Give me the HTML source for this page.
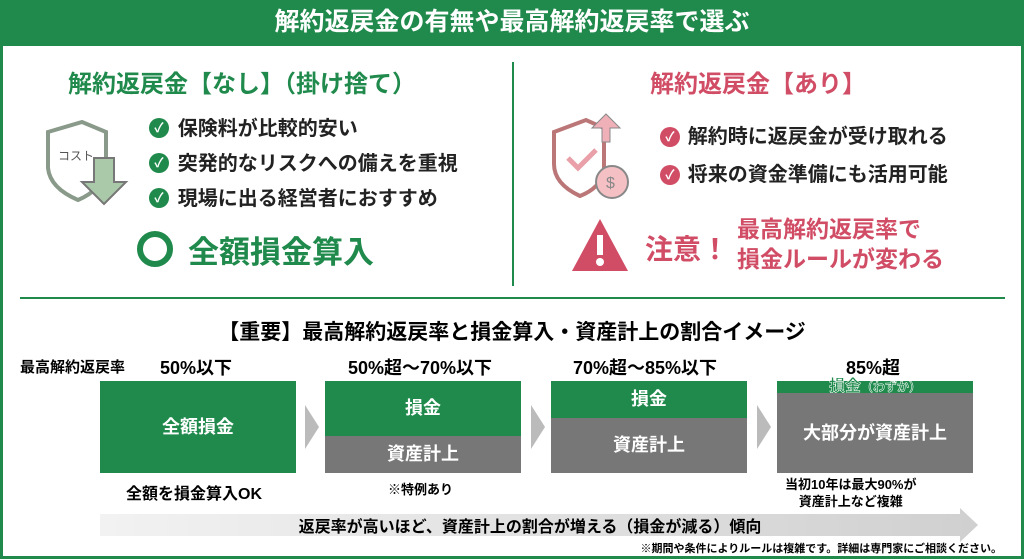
<!DOCTYPE html>
<html><head><meta charset="utf-8"><style>
*{margin:0;padding:0;box-sizing:border-box}
body{width:1024px;height:559px;overflow:hidden;background:#fff;font-family:"Liberation Sans","Noto Sans CJK JP",sans-serif;position:relative}
.a{position:absolute;white-space:nowrap}
.g{color:#1f8a4c}.p{color:#d14d66}
.b{font-weight:bold}
.ck{position:absolute;width:20px;height:20px;border-radius:50%;color:#fff;font-size:13px;font-weight:bold;text-align:center;line-height:20px}
.box{position:absolute;width:196px;height:92px;background:#777;color:#fff;font-weight:bold;font-size:18px}
.box div{position:absolute;left:0;right:0;text-align:center;background:#1f8a4c}
.chev{position:absolute;width:0;height:0;border-top:22px solid transparent;border-bottom:22px solid transparent;border-left:14px solid #bbb}
</style></head><body>
<div class="a" style="left:0;top:0;width:1024px;height:559px;border:3px solid #1f8a4c;border-top:none"></div>
<div class="a" style="left:0;top:0;width:1024px;height:46px;background:#1f8a4c;color:#fff;font-size:25px;font-weight:bold;text-align:center;line-height:44px">解約返戻金の有無や最高解約返戻率で選ぶ</div>
<div class="a" style="left:512px;top:62px;width:2px;height:224px;background:#1f8a4c"></div>
<div class="a" style="left:20px;top:297px;width:985px;height:2px;background:#1f8a4c"></div>

<div class="a g b" style="left:68px;top:64px;font-size:24px">解約返戻金【なし】（掛け捨て）</div>
<svg class="a" style="left:42px;top:118px" width="88" height="90"><path d="M6 14 L40 4 L64 14 L64 50 Q60 72 36 82 Q8 70 6 50 Z" fill="#fff" stroke="#8a9a8a" stroke-width="4"/><text x="16" y="42" font-size="12" fill="#555" font-family="Noto Sans CJK JP">コスト</text><path d="M52 40 h20 v24 h12 l-22 22 l-22 -22 h12 z" fill="#a9c9a9" stroke="#777" stroke-width="2"/></svg>
<div class="a b" style="left:150px;top:112px;font-size:20px;line-height:35px;color:#222">
<div>&nbsp;&nbsp;&nbsp;&nbsp;&nbsp;保険料が比較的安い</div><div>&nbsp;&nbsp;&nbsp;&nbsp;&nbsp;突発的なリスクへの備えを重視</div><div>&nbsp;&nbsp;&nbsp;&nbsp;&nbsp;現場に出る経営者におすすめ</div></div>
<div class="ck" style="left:149px;top:118px;background:#1f8a4c">✓</div><div class="ck" style="left:149px;top:153px;background:#1f8a4c">✓</div><div class="ck" style="left:149px;top:188px;background:#1f8a4c">✓</div>
<div class="a" style="left:137px;top:231px;width:36px;height:36px;border:6px solid #1f8a4c;border-radius:50%"></div>
<div class="a g b" style="left:188px;top:227px;font-size:31px">全額損金算入</div>

<div class="a p b" style="left:650px;top:64px;font-size:24px">解約返戻金【あり】</div>
<svg class="a" style="left:550px;top:112px" width="80" height="90"><path d="M4 20 L36 8 L54 16 L54 60 Q50 76 30 84 Q4 72 4 52 Z" fill="#fff" stroke="#b77" stroke-width="4"/><path d="M18 46 l10 10 l18 -18" stroke="#e9a0a8" stroke-width="5" fill="none"/><path d="M52 30 v-14 h-10 l14 -14 l14 14 h-10 v14z" fill="#f0b0b8" stroke="#888"/><circle cx="62" cy="70" r="16" fill="#f4c0c4" stroke="#888" stroke-width="2"/><text x="56" y="76" font-size="16" fill="#888">$</text></svg>
<div class="a b" style="left:660px;top:118px;font-size:20px;line-height:38px;color:#222"><div>&nbsp;&nbsp;&nbsp;&nbsp;&nbsp;解約時に返戻金が受け取れる</div><div>&nbsp;&nbsp;&nbsp;&nbsp;&nbsp;将来の資金準備にも活用可能</div></div>
<div class="ck" style="left:660px;top:127px;background:#d14d66">✓</div><div class="ck" style="left:660px;top:165px;background:#d14d66">✓</div>
<svg class="a" style="left:570px;top:215px" width="60" height="60"><path d="M30 4 L58 56 H2 Z" fill="#d14d66"/><rect x="27" y="20" width="6" height="20" fill="#fff"/><circle cx="30" cy="47" r="4" fill="#fff"/></svg>
<div class="a p b" style="left:645px;top:228px;font-size:28px">注意！</div>
<div class="a p b" style="left:737px;top:214px;font-size:23px;line-height:30px">最高解約返戻率で<br>損金ルールが変わる</div>

<div class="a b" style="left:0;width:1024px;text-align:center;top:316px;font-size:21px">【重要】最高解約返戻率と損金算入・資産計上の割合イメージ</div>
<div class="a b" style="left:20px;top:356px;font-size:15px">最高解約返戻率</div>
<div class="a b" style="left:160px;top:354px;font-size:18px">50%以下</div>
<div class="a b" style="left:348px;top:354px;font-size:18px">50%超～70%以下</div>
<div class="a b" style="left:573px;top:354px;font-size:18px">70%超～85%以下</div>
<div class="a b" style="left:846px;top:354px;font-size:18px">85%超</div>
<div class="box" style="left:100px;top:381px"><div style="top:0;height:92px;line-height:92px">全額損金</div></div>
<div class="box" style="left:325px;top:381px"><div style="top:0;height:55px;line-height:55px">損金</div><span style="position:absolute;top:55px;left:0;right:0;text-align:center;line-height:37px">資産計上</span></div>
<div class="box" style="left:551px;top:381px"><div style="top:0;height:37px;line-height:37px">損金</div><span style="position:absolute;top:37px;left:0;right:0;text-align:center;line-height:55px">資産計上</span></div>
<div class="box" style="left:777px;top:381px"><div style="top:0;height:12px"></div><span style="position:absolute;top:-5px;left:0;right:0;text-align:center;color:#1f8a4c;font-size:16px;line-height:22px;-webkit-text-stroke:0.5px #fff">損金<small style="font-size:12px">（わずか）</small></span><span style="position:absolute;top:12px;left:0;right:0;text-align:center;line-height:80px">大部分が資産計上</span></div>
<div class="chev" style="left:305px;top:405px"></div><div class="chev" style="left:531px;top:405px"></div><div class="chev" style="left:757px;top:405px"></div>
<div class="a b" style="left:126px;top:480px;font-size:16px">全額を損金算入OK</div>
<div class="a b" style="left:388px;top:479px;font-size:13px">※特例あり</div>
<div class="a b" style="left:785px;top:476px;font-size:13px;text-align:center;line-height:17px">当初10年は最大90%が<br>資産計上など複雑</div>
<svg class="a" style="left:100px;top:508px" width="880" height="34"><defs><linearGradient id="gr"><stop offset="0" stop-color="#f2f2f2"/><stop offset="1" stop-color="#d0d0d0"/></linearGradient></defs><path d="M0 6 H860 V0 L878 17 L860 34 V28 H0Z" fill="url(#gr)"/></svg>
<div class="a b" style="left:100px;width:860px;text-align:center;top:513px;font-size:16px">返戻率が高いほど、資産計上の割合が増える（損金が減る）傾向</div>
<div class="a b" style="right:22px;top:540px;font-size:11px">※期間や条件によりルールは複雑です。詳細は専門家にご相談ください。</div>
</body></html>
